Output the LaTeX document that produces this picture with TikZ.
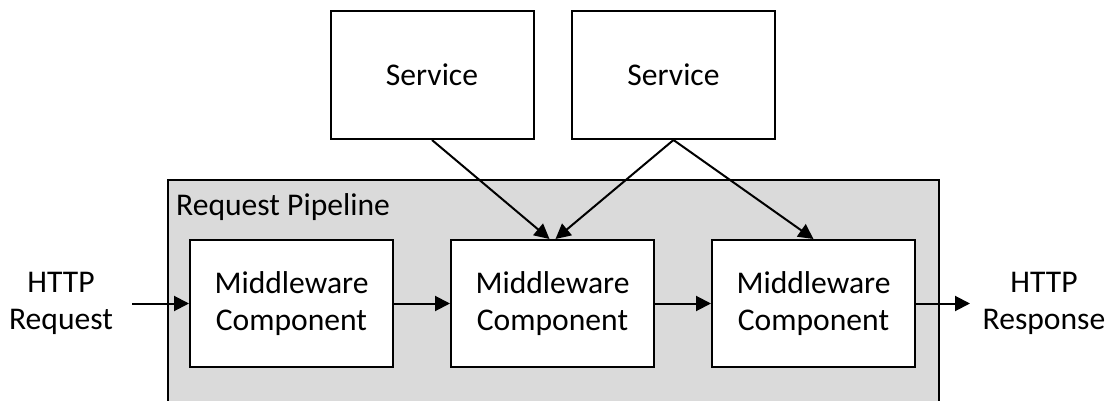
\documentclass[tikz,border=0pt]{standalone}
\usepackage{fontspec}
\setmainfont{Carlito}
\usetikzlibrary{arrows.meta,calc}
\definecolor{pipegray}{RGB}{218,218,218}
\tikzset{
  box/.style={draw=black, line width=2pt, fill=white, inner sep=0pt, align=center,
    font=\fontsize{31.6}{37}\selectfont},
  mwbox/.style={box, minimum width=203pt, minimum height=127pt},
  svcbox/.style={box, minimum width=203pt, minimum height=128pt},
  lbl/.style={align=center, inner sep=0pt, font=\fontsize{31.6}{37}\selectfont},
  flow/.style={line width=2pt, -{Triangle[length=15pt,width=15pt]}}
}
\begin{document}
\begin{tikzpicture}[x=1pt,y=-1pt]
\useasboundingbox (0,0) rectangle (1120,401);
\fill[white] (0,0) rectangle (1120,401);
% pipeline
\node[draw=black, line width=2pt, fill=pipegray, inner sep=0pt, minimum width=771pt, minimum height=222pt, anchor=north west] (pipe) at (167,179) {};
\node[lbl, anchor=base west] (pipelbl) at (176,215) {Request Pipeline};
% middleware
\node[mwbox] (mw1) at (291.5,303.5) {Middleware\\Component};
\node[mwbox] (mw2) at (552.5,303.5) {Middleware\\Component};
\node[mwbox] (mw3) at (813.5,303.5) {Middleware\\Component};
% services
\node[svcbox] (s1) at (432,75) {Service};
\node[svcbox] (s2) at (673.5,75) {Service};
% outer labels
\node[lbl] (req) at (61,303.5) {HTTP\\Request};
\node[lbl] (resp) at (1044,303.5) {HTTP\\Response};
\coordinate (reqend) at (132,303.5);
\coordinate (respend) at (970,303.5);
% arrows
\draw[flow] (reqend) -- (mw1.west);
\draw[flow] (mw1.east) -- (mw2.west);
\draw[flow] (mw2.east) -- (mw3.west);
\draw[flow] (mw3.east) -- (respend);
\draw[flow] (s1.south) -- ($(mw2.north)+(-3,0)$);
\draw[flow] (s2.south) -- ($(mw2.north)+(3,0)$);
\draw[flow] (s2.south) -- (mw3.north);
\end{tikzpicture}
\end{document}
